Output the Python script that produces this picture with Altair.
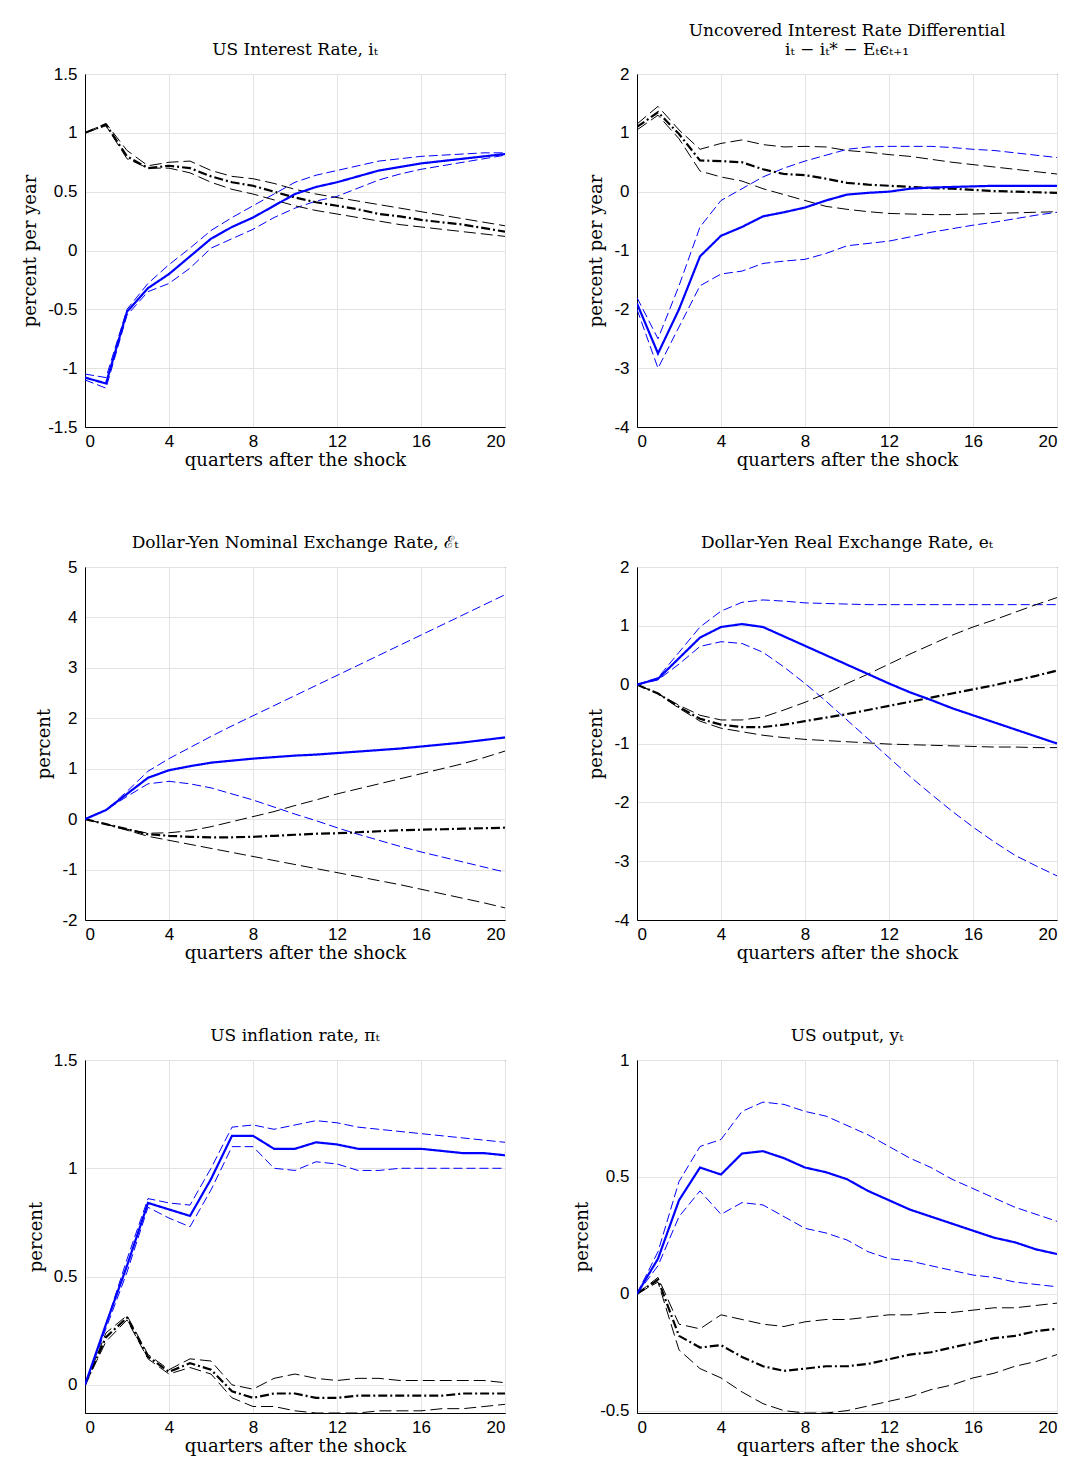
import pandas as pd
import altair as alt

quarters = list(range(21))

# --- US interest rate
p1 = {
    "mid_b": [-1.08,-1.13,-0.52,-0.32,-0.2,-0.05,0.1,0.2,0.28,0.38,0.48,0.54,0.58,0.63,0.68,0.71,0.74,0.76,0.78,0.80,0.82],
    "up_b": [-1.05,-1.08,-0.5,-0.28,-0.12,0.02,0.17,0.28,0.38,0.48,0.58,0.64,0.68,0.72,0.76,0.78,0.80,0.81,0.82,0.83,0.83],
    "lo_b": [-1.1,-1.17,-0.55,-0.35,-0.28,-0.15,0.02,0.1,0.18,0.28,0.36,0.42,0.46,0.53,0.6,0.65,0.69,0.72,0.75,0.78,0.81],
    "mid_k": [1.0,1.07,0.8,0.7,0.72,0.7,0.63,0.58,0.55,0.5,0.45,0.41,0.38,0.35,0.31,0.29,0.26,0.24,0.22,0.19,0.16],
    "up_k": [1.0,1.08,0.85,0.72,0.75,0.76,0.68,0.63,0.61,0.57,0.52,0.48,0.45,0.42,0.39,0.36,0.33,0.3,0.27,0.24,0.21],
    "lo_k": [1.0,1.06,0.78,0.7,0.7,0.66,0.58,0.52,0.48,0.43,0.38,0.34,0.31,0.28,0.25,0.22,0.2,0.18,0.16,0.14,0.12],
}
# --- uncovered interest rate differential
p2 = {
    "mid_b": [-1.9,-2.75,-2.0,-1.1,-0.75,-0.6,-0.42,-0.35,-0.27,-0.15,-0.05,-0.02,0,0.05,0.07,0.08,0.09,0.1,0.1,0.1,0.1],
    "up_b": [-1.8,-2.5,-1.6,-0.6,-0.15,0.05,0.25,0.4,0.52,0.62,0.72,0.76,0.77,0.77,0.77,0.75,0.72,0.7,0.66,0.62,0.58],
    "lo_b": [-2.0,-3.0,-2.3,-1.6,-1.4,-1.35,-1.22,-1.18,-1.15,-1.05,-0.92,-0.88,-0.84,-0.77,-0.69,-0.63,-0.57,-0.52,-0.46,-0.4,-0.35],
    "mid_k": [1.1,1.35,0.98,0.53,0.52,0.5,0.38,0.3,0.28,0.22,0.15,0.12,0.1,0.08,0.06,0.05,0.03,0.01,0,-0.01,-0.02],
    "up_k": [1.15,1.45,1.05,0.72,0.82,0.88,0.8,0.76,0.77,0.76,0.7,0.67,0.63,0.6,0.55,0.5,0.46,0.42,0.38,0.34,0.3],
    "lo_k": [1.05,1.3,0.9,0.35,0.25,0.18,0.05,-0.05,-0.15,-0.25,-0.3,-0.34,-0.37,-0.38,-0.39,-0.39,-0.38,-0.37,-0.36,-0.35,-0.34],
}
# --- nominal exchange rate
p3 = {
    "mid_b": [0,0.18,0.5,0.82,0.97,1.05,1.12,1.16,1.2,1.23,1.26,1.28,1.31,1.34,1.37,1.4,1.44,1.48,1.52,1.57,1.62],
    "up_b": [0,0.18,0.55,0.95,1.2,1.42,1.64,1.85,2.05,2.25,2.45,2.65,2.85,3.05,3.25,3.45,3.65,3.85,4.05,4.25,4.45],
    "lo_b": [0,0.18,0.45,0.7,0.75,0.7,0.62,0.5,0.38,0.24,0.1,-0.03,-0.17,-0.3,-0.42,-0.54,-0.65,-0.75,-0.85,-0.95,-1.05],
    "mid_k": [0,-0.1,-0.2,-0.3,-0.33,-0.35,-0.36,-0.36,-0.35,-0.33,-0.31,-0.29,-0.28,-0.26,-0.24,-0.22,-0.21,-0.2,-0.19,-0.18,-0.17],
    "up_k": [0,-0.1,-0.2,-0.28,-0.27,-0.23,-0.15,-0.05,0.05,0.15,0.27,0.38,0.5,0.6,0.7,0.8,0.9,1.0,1.1,1.22,1.35],
    "lo_k": [0,-0.1,-0.22,-0.34,-0.42,-0.5,-0.58,-0.66,-0.74,-0.82,-0.9,-0.98,-1.06,-1.14,-1.22,-1.3,-1.39,-1.48,-1.57,-1.66,-1.76],
}
# --- real exchange rate
p4 = {
    "mid_b": [0,0.1,0.45,0.8,0.98,1.03,0.98,0.82,0.66,0.5,0.34,0.18,0.02,-0.13,-0.26,-0.4,-0.52,-0.64,-0.76,-0.88,-1.0],
    "up_b": [0,0.12,0.55,0.98,1.25,1.4,1.44,1.42,1.39,1.38,1.37,1.36,1.36,1.36,1.36,1.36,1.36,1.36,1.36,1.36,1.36],
    "lo_b": [0,0.08,0.35,0.65,0.73,0.7,0.55,0.3,0.02,-0.28,-0.6,-0.92,-1.24,-1.56,-1.86,-2.15,-2.42,-2.67,-2.9,-3.08,-3.25],
    "mid_k": [0,-0.15,-0.38,-0.58,-0.68,-0.72,-0.72,-0.68,-0.62,-0.56,-0.5,-0.43,-0.36,-0.29,-0.22,-0.15,-0.08,-0.01,0.07,0.15,0.24],
    "up_k": [0,-0.15,-0.35,-0.52,-0.6,-0.6,-0.55,-0.43,-0.3,-0.15,0.02,0.18,0.35,0.52,0.68,0.84,0.98,1.1,1.23,1.36,1.48],
    "lo_k": [0,-0.15,-0.4,-0.62,-0.74,-0.8,-0.86,-0.9,-0.93,-0.95,-0.97,-0.99,-1.01,-1.02,-1.03,-1.04,-1.05,-1.06,-1.06,-1.07,-1.07],
}
# --- inflation
p5 = {
    "mid_b": [0,0.28,0.55,0.84,0.81,0.78,0.95,1.15,1.15,1.09,1.09,1.12,1.11,1.09,1.09,1.09,1.09,1.08,1.07,1.07,1.06],
    "up_b": [0,0.28,0.58,0.86,0.84,0.83,1.0,1.19,1.2,1.18,1.2,1.22,1.21,1.19,1.18,1.17,1.16,1.15,1.14,1.13,1.12],
    "lo_b": [0,0.26,0.52,0.82,0.77,0.73,0.9,1.1,1.1,1.0,0.99,1.03,1.02,0.99,0.99,1.0,1.0,1.0,1.0,1.0,1.0],
    "mid_k": [0,0.22,0.31,0.13,0.06,0.1,0.07,-0.03,-0.06,-0.04,-0.04,-0.06,-0.06,-0.05,-0.05,-0.05,-0.05,-0.05,-0.04,-0.04,-0.04],
    "up_k": [0,0.24,0.32,0.14,0.07,0.12,0.11,0.0,-0.02,0.03,0.05,0.03,0.02,0.03,0.03,0.02,0.02,0.02,0.02,0.02,0.01],
    "lo_k": [0,0.2,0.3,0.12,0.05,0.08,0.05,-0.06,-0.1,-0.1,-0.12,-0.13,-0.13,-0.13,-0.12,-0.12,-0.12,-0.11,-0.11,-0.1,-0.09],
}
# --- output
p6 = {
    "mid_b": [0,0.15,0.4,0.54,0.51,0.6,0.61,0.58,0.54,0.52,0.49,0.44,0.4,0.36,0.33,0.3,0.27,0.24,0.22,0.19,0.17],
    "up_b": [0,0.18,0.48,0.63,0.66,0.78,0.82,0.81,0.78,0.76,0.72,0.68,0.63,0.58,0.54,0.49,0.45,0.41,0.37,0.34,0.31],
    "lo_b": [0,0.12,0.33,0.44,0.34,0.39,0.38,0.33,0.28,0.26,0.23,0.18,0.15,0.14,0.12,0.1,0.08,0.07,0.05,0.04,0.03],
    "mid_k": [0,0.06,-0.18,-0.23,-0.22,-0.27,-0.31,-0.33,-0.32,-0.31,-0.31,-0.3,-0.28,-0.26,-0.25,-0.23,-0.21,-0.19,-0.18,-0.16,-0.15],
    "up_k": [0,0.07,-0.13,-0.15,-0.09,-0.11,-0.13,-0.14,-0.12,-0.11,-0.11,-0.1,-0.09,-0.09,-0.08,-0.08,-0.07,-0.06,-0.06,-0.05,-0.04],
    "lo_k": [0,0.05,-0.24,-0.32,-0.36,-0.42,-0.47,-0.5,-0.51,-0.51,-0.5,-0.48,-0.46,-0.44,-0.41,-0.39,-0.36,-0.34,-0.31,-0.29,-0.26],
}

panels = [
    (p1, "US Interest Rate, iₜ", "percent per year", [-1.5, 1.5], [-1.5, -1, -0.5, 0, 0.5, 1, 1.5]),
    (p2, ["Uncovered Interest Rate Differential", "iₜ − iₜ* − Eₜϵₜ₊₁"], "percent per year", [-4, 2], [-4, -3, -2, -1, 0, 1, 2]),
    (p3, "Dollar-Yen Nominal Exchange Rate, ℰₜ", "percent", [-2, 5], [-2, -1, 0, 1, 2, 3, 4, 5]),
    (p4, "Dollar-Yen Real Exchange Rate, eₜ", "percent", [-4, 2], [-4, -3, -2, -1, 0, 1, 2]),
    (p5, "US inflation rate, πₜ", "percent", [-0.13, 1.5], [0, 0.5, 1, 1.5]),
    (p6, "US output, yₜ", "percent", [-0.51, 1], [-0.5, 0, 0.5, 1]),
]

# series name -> (colour, dash, width)
styles = {
    "up_b": ("#0000ff", [9, 4], 1),
    "lo_b": ("#0000ff", [9, 4], 1),
    "up_k": ("#000000", [12, 5], 1),
    "lo_k": ("#000000", [12, 5], 1),
    "mid_k": ("#000000", [9, 3, 2, 3], 2.2),
    "mid_b": ("#0000ff", [1, 0], 2.2),
}

label_expr = "datum.value < 0 ? '-' + format(-datum.value, '~g') : format(datum.value, '~g')"

charts = []
for vals, title, ytitle, dom, yticks in panels:
    layers = []
    for s, (col, dash, w) in styles.items():
        df = pd.DataFrame({"q": quarters, "v": vals[s]})
        layers.append(alt.Chart(df).mark_line(clip=True, color=col, strokeDash=dash, strokeWidth=w).encode(
            x=alt.X("q:Q", title="quarters after the shock",
                    scale=alt.Scale(domain=[0, 20], nice=False),
                    axis=alt.Axis(values=[0, 4, 8, 12, 16, 20])),
            y=alt.Y("v:Q", title=ytitle, scale=alt.Scale(domain=dom, nice=False, zero=False),
                    axis=alt.Axis(values=yticks, labelExpr=label_expr)),
        ))
    c = alt.layer(*layers).properties(width=420, height=353,
                 title=alt.TitleParams(title, font="DejaVu Serif", fontSize=17,
                                       fontWeight="normal", offset=6))
    charts.append(c)

chart = alt.concat(*charts, columns=2, spacing={"row": 140, "column": 132},
                   bounds="flush").properties(
    padding={"left": 13, "top": 13, "right": 0, "bottom": 0}
).configure_view(stroke="#000000", strokeWidth=1).configure_axis(
    grid=True, gridColor="#e3e3e3", domain=True, domainColor="#000000", ticks=False,
    labelFont="Liberation Sans", labelFontSize=17, labelColor="#000000",
    titleFont="DejaVu Serif", titleFontSize=18, titleFontWeight="normal", titleColor="#000000",
).configure_axisY(titlePadding=8, labelPadding=8).configure_axisX(titlePadding=2, labelPadding=6)

chart.save("out.html", embed_options={"renderer": "svg", "actions": False})
